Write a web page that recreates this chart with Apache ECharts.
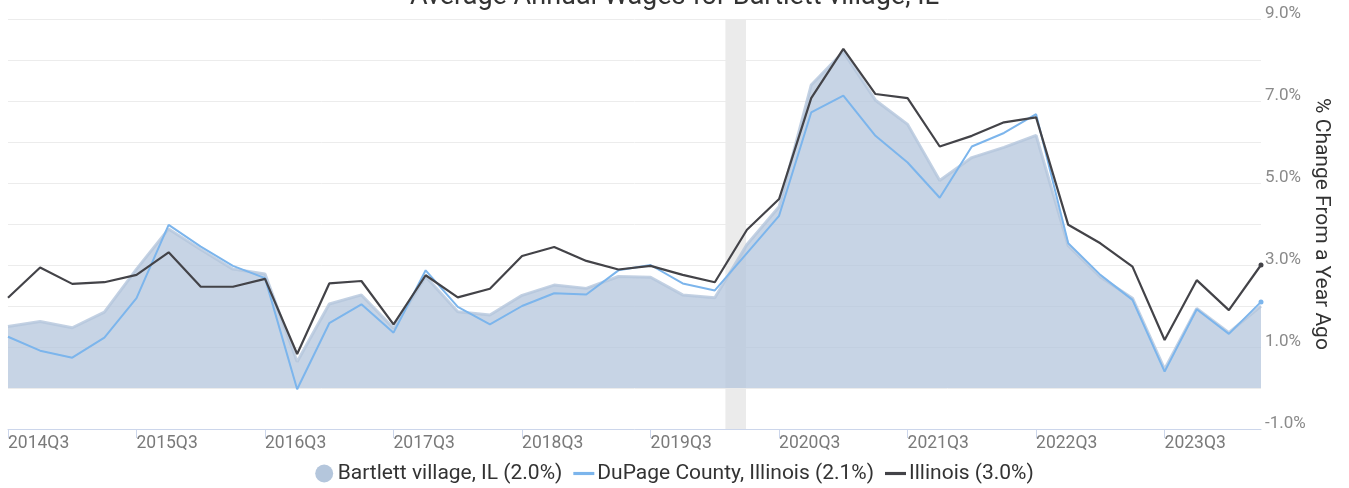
<!DOCTYPE html>
<html>
<head>
<meta charset="utf-8">
<script src="https://cdn.jsdelivr.net/npm/echarts@6/dist/echarts.min.js"></script>
<style>
html,body{margin:0;padding:0;background:#fff;}
#chart{width:1349px;height:488px;}
</style>
</head>
<body>
<div id="chart"></div>
<script>
const categories = [
  '2014Q3','2014Q4','2015Q1','2015Q2','2015Q3','2015Q4','2016Q1','2016Q2',
  '2016Q3','2016Q4','2017Q1','2017Q2','2017Q3','2017Q4','2018Q1','2018Q2',
  '2018Q3','2018Q4','2019Q1','2019Q2','2019Q3','2019Q4','2020Q1','2020Q2',
  '2020Q3','2020Q4','2021Q1','2021Q2','2021Q3','2021Q4','2022Q1','2022Q2',
  '2022Q3','2022Q4','2023Q1','2023Q2','2023Q3','2023Q4','2024Q1','2024Q2'
];
const bartlett = [
  1.50,1.62,1.47,1.85,2.90,3.88,3.38,2.90,
  2.78,0.64,2.05,2.27,1.46,2.72,1.86,1.78,
  2.26,2.51,2.43,2.72,2.70,2.27,2.20,3.50,
  4.42,7.39,8.20,7.02,6.43,5.06,5.62,5.87,
  6.16,3.47,2.71,2.19,0.46,1.94,1.35,2.00
];
const dupage = [
  1.25,0.91,0.74,1.23,2.19,3.98,3.45,2.98,
  2.68,-0.03,1.58,2.04,1.35,2.87,1.98,1.55,
  2.00,2.31,2.28,2.87,3.00,2.55,2.38,3.29,
  4.20,6.72,7.13,6.15,5.50,4.64,5.89,6.22,
  6.68,3.53,2.76,2.15,0.40,1.92,1.32,2.10
];
const illinois = [
  2.20,2.94,2.54,2.58,2.76,3.31,2.47,2.47,
  2.66,0.83,2.55,2.61,1.55,2.75,2.21,2.42,
  3.22,3.44,3.10,2.89,2.98,2.76,2.58,3.86,
  4.61,7.07,8.27,7.17,7.07,5.89,6.15,6.48,
  6.60,3.98,3.53,2.96,1.17,2.63,1.90,3.00
];
const seriesNames = ['Bartlett village, IL (2.0%)','DuPage County, Illinois (2.1%)','Illinois (3.0%)'];
const yLabelValues = [-1,1,3,5,7,9];
const recession = [22.33, 22.97]; // in quarter index units (Feb 2020 - Apr 2020)

function withEndMarker(arr, color){
  return arr.map(function(v,i){
    return i === arr.length-1 ? {value:v, symbol:'circle', symbolSize:5, itemStyle:{color:color}} : v;
  });
}

const chart = echarts.init(document.getElementById('chart'), null, {renderer:'canvas'});
const font = 'Roboto, "Noto Sans", sans-serif';
const lineIcon = 'path://M0,0 L20,0 L20,3 L0,3 Z';
chart.setOption({
  animation:false,
  textStyle:{fontFamily:font},
  title:{
    text:'Average Annual Wages for Bartlett village, IL',
    left:'center', top:-21,
    textStyle:{fontSize:27,fontWeight:'normal',color:'#333',fontFamily:font}
  },
  grid:{left:8,right:88,top:19,bottom:59,containLabel:false},
  legend:{
    bottom:-1, left:'center', itemGap:11, itemWidth:21, itemHeight:18,
    textStyle:{fontSize:21,color:'#333',fontFamily:font, padding:[0,0,0,-2]},
    data:[
      {name:seriesNames[0],icon:'circle',itemStyle:{color:'#b4c6dc'}},
      {name:seriesNames[1],icon:lineIcon},
      {name:seriesNames[2],icon:lineIcon}
    ]
  },
  xAxis:[{
    type:'category', data:categories, boundaryGap:false,
    axisLine:{onZero:false,lineStyle:{color:'#ccd6eb',width:1}},
    axisTick:{interval:3,length:9,lineStyle:{color:'#ccd6eb'}},
    axisLabel:{interval:3,align:'left',margin:6,fontSize:17.5,color:'#7a7a7a',fontFamily:font},
    splitLine:{show:false}
  },{
    type:'value', min:0, max:categories.length-1, show:false
  }],
  yAxis:{
    type:'value', position:'right', min:-1, max:9, interval:1,
    name:'% Change From a Year Ago', nameLocation:'middle', nameRotate:-90, nameGap:50,
    nameMoveOverlap:false,
    nameTextStyle:{fontSize:21,color:'#333',fontFamily:font},
    axisLine:{show:false}, axisTick:{show:false},
    axisLabel:{
      margin:4, fontSize:17, color:'#8a8a8a', fontFamily:font,
      verticalAlign:'bottom', lineHeight:10,
      formatter:function(v){return yLabelValues.indexOf(Math.round(v))>=0 ? v.toFixed(1)+'%' : '';}
    },
    splitLine:{lineStyle:{color:'#ececec',width:1}}
  },
  series:[
    {
      type:'line', xAxisIndex:1, data:[], silent:true, z:1,
      markArea:{silent:true, itemStyle:{color:'#ebebeb'},
        data:[[{xAxis:recession[0]},{xAxis:recession[1]}]]}
    },
    {
      name:seriesNames[0], type:'line', data:bartlett, z:2,
      symbol:'none', color:'#b4c6dc',
      lineStyle:{color:'#b4c6dc',width:3,opacity:0.8},
      areaStyle:{color:'#b4c6dc',opacity:0.75,origin:0}
    },
    {
      name:seriesNames[1], type:'line', data:withEndMarker(dupage,'#7cb5ec'), z:3,
      symbol:'none', color:'#7cb5ec',
      lineStyle:{color:'#7cb5ec',width:2}
    },
    {
      name:seriesNames[2], type:'line', data:withEndMarker(illinois,'#434348'), z:4,
      symbol:'none', color:'#434348',
      lineStyle:{color:'#434348',width:2.2}
    }
  ]
});
</script>
</body>
</html>
